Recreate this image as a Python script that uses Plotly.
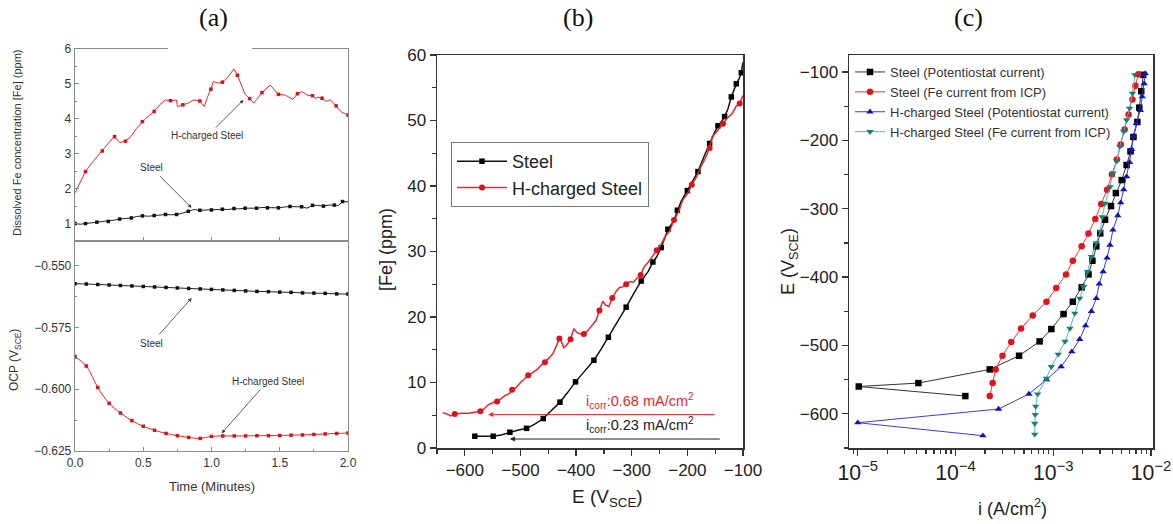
import plotly.graph_objects as go

# ---------------- DATA ----------------
# (a) top: dissolved Fe (ppm) vs time (min)
t_fe_h = [0.0, 0.04, 0.077, 0.12, 0.16, 0.2, 0.244, 0.27, 0.29, 0.31,
          0.327, 0.37, 0.413, 0.45, 0.494, 0.51, 0.54, 0.58, 0.62, 0.663,
          0.7, 0.744, 0.75, 0.79, 0.83, 0.87, 0.915, 0.947, 0.97, 0.996,
          1.013, 1.05, 1.08, 1.12, 1.165, 1.19, 1.22, 1.246, 1.28, 1.31,
          1.33, 1.37, 1.43, 1.46, 1.49, 1.54, 1.597, 1.63, 1.663, 1.7,
          1.74, 1.76, 1.78, 1.81, 1.84, 1.87, 1.913, 1.95, 1.975, 2.0]
fe_h = [1.88, 2.2, 2.49, 2.72, 2.91, 3.08, 3.29, 3.42, 3.49, 3.40,
        3.32, 3.36, 3.51, 3.72, 3.92, 3.98, 4.08, 4.21, 4.40, 4.54,
        4.52, 4.54, 4.35, 4.40, 4.45, 4.54, 4.51, 4.35, 4.62, 4.85,
        5.07, 5.02, 5.05, 5.20, 5.43, 5.25, 4.95, 4.70, 4.58, 4.45,
        4.55, 4.75, 4.97, 4.85, 4.70, 4.68, 4.56, 4.72, 4.78, 4.68,
        4.66, 4.58, 4.62, 4.59, 4.50, 4.55, 4.37, 4.20, 4.15, 4.11]
t_fe_s = [0.0, 0.04, 0.077, 0.12, 0.16, 0.2, 0.244, 0.29, 0.327, 0.37,
          0.413, 0.45, 0.494, 0.54, 0.58, 0.62, 0.663, 0.7, 0.744, 0.79,
          0.83, 0.87, 0.915, 0.96, 1.0, 1.04, 1.08, 1.12, 1.165, 1.2,
          1.246, 1.29, 1.33, 1.37, 1.41, 1.45, 1.49, 1.53, 1.575, 1.62,
          1.66, 1.7, 1.74, 1.78, 1.82, 1.86, 1.9, 1.93, 1.96, 2.0]
fe_s = [1.0, 0.98, 1.0, 1.02, 1.04, 1.05, 1.06, 1.10, 1.13, 1.14,
        1.16, 1.20, 1.22, 1.21, 1.23, 1.24, 1.26, 1.25, 1.26, 1.30,
        1.35, 1.40, 1.38, 1.38, 1.39, 1.40, 1.41, 1.40, 1.43, 1.42,
        1.44, 1.43, 1.44, 1.46, 1.45, 1.44, 1.45, 1.47, 1.49, 1.48,
        1.48, 1.44, 1.52, 1.52, 1.50, 1.53, 1.53, 1.52, 1.63, 1.62]

# (a) bottom: OCP (V_SCE) vs time (min)
t_ocp = [0.0, 0.083, 0.167, 0.25, 0.333, 0.417, 0.5, 0.583, 0.667, 0.75,
         0.833, 0.917, 1.0, 1.083, 1.167, 1.25, 1.333, 1.417, 1.5, 1.583,
         1.667, 1.75, 1.833, 1.917, 2.0]
ocp_s = [-0.5573, -0.5574, -0.5576, -0.5578, -0.5580, -0.5582, -0.5584, -0.5586, -0.5588, -0.5590,
         -0.5592, -0.5594, -0.5596, -0.5598, -0.5600, -0.5602, -0.5604, -0.5605, -0.5607, -0.5608,
         -0.5610, -0.5611, -0.5612, -0.5614, -0.5615]
ocp_h = [-0.5868, -0.5906, -0.5993, -0.6057, -0.6096, -0.6127, -0.6150, -0.6166, -0.6179, -0.6188,
         -0.6195, -0.6199, -0.6191, -0.6189, -0.6189, -0.6189, -0.6188, -0.6188, -0.6187, -0.6186,
         -0.6185, -0.6183, -0.6181, -0.6179, -0.6177]

# (b) [Fe] (ppm) vs E (mV_SCE)
E_b_s = [-582, -565, -549, -535, -519, -505, -489, -475, -459, -445,
         -429, -415, -401, -385, -368, -355, -342, -326, -310, -297,
         -283, -270, -262, -255, -247, -240, -235, -225, -218, -211,
         -200, -190, -181, -170, -160, -152, -145, -139, -133, -127,
         -121, -116, -112, -107, -103, -100]
fe_b_s = [1.8, 1.8, 1.8, 2.0, 2.4, 2.7, 3.0, 3.6, 4.5, 5.6,
          7.0, 8.5, 10.1, 11.7, 13.4, 15.1, 16.9, 19.2, 21.5, 23.5,
          25.5, 27.0, 28.4, 29.2, 30.6, 32.2, 33.4, 34.6, 36.3, 37.7,
          39.3, 40.8, 42.2, 44.5, 46.5, 48.0, 49.2, 49.8, 50.6, 51.8,
          53.6, 54.9, 55.6, 56.4, 57.3, 58.9]
E_b_h = [-640, -632, -626, -618, -605, -592, -580, -572, -565, -558,
         -550, -542, -535, -528, -520, -515, -508, -500, -492, -486,
         -478, -470, -463, -456, -448, -441, -436, -430, -426, -422,
         -416, -410, -404, -398, -392, -386, -378, -370, -364, -358,
         -352, -347, -341, -335, -328, -322, -316, -310, -303, -297,
         -290, -284, -278, -270, -262, -255, -247, -240, -232, -224,
         -216, -208, -200, -192, -184, -176, -168, -160, -155, -150,
         -144, -136, -128, -120, -112, -106, -100]
fe_b_h = [5.4, 5.2, 4.9, 5.2, 5.3, 5.3, 5.5, 5.6, 6.0, 6.6,
          6.9, 7.1, 7.5, 8.0, 8.3, 8.9, 9.2, 10.0, 10.6, 11.1,
          11.5, 12.0, 12.6, 13.1, 13.8, 14.5, 15.6, 16.7, 16.2, 15.3,
          15.8, 16.6, 18.2, 17.6, 17.4, 17.4, 18.0, 18.8, 19.5, 21.0,
          22.4, 21.8, 21.6, 22.9, 23.9, 24.5, 24.6, 25.0, 25.4, 25.3,
          26.0, 26.4, 27.6, 28.4, 29.4, 30.2, 31.1, 32.3, 33.1, 34.8,
          36.0, 37.9, 38.8, 40.2, 41.3, 42.9, 44.2, 45.8, 47.6, 48.0,
          48.6, 49.5, 50.4, 51.0, 52.2, 52.6, 53.8]
icorr_labels = ["i<sub>corr</sub>:0.68 mA/cm<sup>2</sup>", "i<sub>corr</sub>:0.23 mA/cm<sup>2</sup>"]
icorr_fe = [5.1, 1.37]          # level of the i_corr arrows (ppm)
icorr_E_head = [-558, -519]     # arrow heads (mV)
icorr_E_tail = [-148, -139]     # arrow tails (mV)

# (c) Tafel: log10 i (A/cm2) and E (mV_SCE)
logi_s_pot = [-3.90, -4.99, -4.38, -3.65, -3.35, -3.14, -3.02, -2.895, -2.80, -2.71,
              -2.64, -2.60, -2.56, -2.52, -2.47, -2.41, -2.36, -2.30, -2.25, -2.21,
              -2.18, -2.14, -2.12, -2.10, -2.08]
E_s_pot = [-574, -560, -555, -535, -515, -494, -476, -454, -436, -415,
           -396, -376, -355, -336, -316, -296, -277, -258, -236, -216,
           -195, -173, -152, -128, -104]
logi_s_icp = [-3.65, -3.62, -3.59, -3.52, -3.43, -3.33, -3.21, -3.07, -2.97, -2.87,
              -2.80, -2.71, -2.64, -2.57, -2.51, -2.45, -2.40, -2.35, -2.31, -2.27,
              -2.23, -2.19, -2.16, -2.13]
E_s_icp = [-574, -555, -535, -515, -495, -475, -456, -436, -416, -396,
           -376, -355, -336, -315, -293, -272, -250, -228, -206, -184,
           -162, -140, -120, -103]
logi_h_pot = [-3.72, -5.0, -3.56, -3.25, -3.07, -2.92, -2.81, -2.73, -2.67, -2.61,
              -2.56, -2.53, -2.49, -2.45, -2.42, -2.39, -2.34, -2.31, -2.28, -2.25,
              -2.22, -2.20, -2.18, -2.15, -2.11, -2.09, -2.07, -2.06]
E_h_pot = [-632, -613, -593, -571, -550, -531, -509, -491, -471, -450,
           -431, -410, -392, -372, -353, -331, -310, -291, -272, -253,
           -232, -213, -194, -175, -156, -136, -117, -102]
logi_h_icp = [-3.19, -3.19, -3.185, -3.18, -3.16, -3.07, -3.02, -2.95, -2.88, -2.83,
              -2.78, -2.73, -2.69, -2.65, -2.61, -2.56, -2.52, -2.50, -2.47, -2.42,
              -2.39, -2.35, -2.32, -2.28, -2.25, -2.22, -2.19, -2.165]
E_h_icp = [-630, -614, -601, -589, -571, -548, -531, -513, -494, -475,
           -453, -431, -414, -392, -370, -350, -333, -312, -292, -268,
           -248, -230, -209, -187, -170, -153, -131, -104]
c_names = ["Steel (Potentiostat current)", "Steel (Fe current from ICP)",
           "H-charged Steel (Potentiostat current)", "H-charged Steel (Fe current from ICP)"]

# ---------------- LAYOUT HELPERS ----------------
W, H = 1173, 524
def fx(p): return p / W
def fy(p): return 1 - p / H

FONT = "Liberation Sans, Arial, sans-serif"
RED = "#e8262b"
fig = go.Figure()

# (a) top
fig.add_trace(go.Scatter(x=t_fe_s, y=fe_s, mode="lines+markers", xaxis="x", yaxis="y",
                         line=dict(color="#222", width=1),
                         marker=dict(symbol="square", size=3.5, color="#111", maxdisplayed=25),
                         showlegend=False))
fig.add_trace(go.Scatter(x=t_fe_h, y=fe_h, mode="lines+markers", xaxis="x", yaxis="y",
                         line=dict(color=RED, width=1),
                         marker=dict(symbol="square", size=3.5, color="#d0141c", maxdisplayed=24),
                         showlegend=False))
# (a) bottom
fig.add_trace(go.Scatter(x=t_ocp, y=ocp_s, mode="lines+markers", xaxis="x2", yaxis="y2",
                         line=dict(color="#222", width=1, shape="spline"),
                         marker=dict(symbol="square", size=3.5, color="#111"), showlegend=False))
fig.add_trace(go.Scatter(x=t_ocp, y=ocp_h, mode="lines+markers", xaxis="x2", yaxis="y2",
                         line=dict(color=RED, width=1, shape="spline"),
                         marker=dict(symbol="square", size=3.5, color="#d0141c"), showlegend=False))
# (b)
fig.add_trace(go.Scatter(x=E_b_s, y=fe_b_s, mode="lines+markers", xaxis="x3", yaxis="y3",
                         name="Steel", legend="legend",
                         line=dict(color="#111", width=1.5),
                         marker=dict(symbol="square", size=5.5, color="#000", maxdisplayed=23)))
fig.add_trace(go.Scatter(x=E_b_h, y=fe_b_h, mode="lines+markers", xaxis="x3", yaxis="y3",
                         name="H-charged Steel", legend="legend",
                         line=dict(color=RED, width=1.5),
                         marker=dict(symbol="circle", size=6, color="#e0101a", maxdisplayed=20)))
# (c)
c_series = [(logi_s_pot, E_s_pot, "#333333", "#000000", "square"),
            (logi_s_icp, E_s_icp, "#ff3030", "#e0141c", "circle"),
            (logi_h_pot, E_h_pot, "#3a3ae0", "#1212b8", "triangle-up"),
            (logi_h_icp, E_h_icp, "#4fb8c8", "#1a7f70", "triangle-down")]
for (li, ee, lc, mc, sym), nm in zip(c_series, c_names):
    fig.add_trace(go.Scatter(x=[10 ** v for v in li], y=ee, mode="lines+markers",
                             xaxis="x4", yaxis="y4", name=nm, legend="legend2",
                             line=dict(color=lc, width=1),
                             marker=dict(symbol=sym, size=6.5, color=mc)))

# ---------------- AXES ----------------
a_x = [fx(75), fx(348)]
gray = "#8a8a8a"
tick_a = dict(tickfont=dict(size=12, color="#333", family=FONT), ticks="inside", ticklen=4,
              tickcolor=gray, showline=True, linecolor=gray, linewidth=1.3, mirror=True,
              showgrid=False, zeroline=False)
tick_bc = dict(tickfont=dict(size=17, color="#222", family=FONT), ticks="outside", ticklen=6,
               tickcolor="#333", tickwidth=1.3, showline=True, linecolor="#333", linewidth=1.5,
               mirror=True, showgrid=False, zeroline=False)

fig.update_layout(
    xaxis=dict(domain=a_x, anchor="y", range=[0, 2], matches="x2", showticklabels=False,
               dtick=0.5, **tick_a),
    yaxis=dict(domain=[fy(241), fy(49)], anchor="x", range=[0.5, 6], tick0=0, dtick=1,
               minor=dict(ticks="inside", ticklen=2, dtick=0.5, tickcolor=gray), **tick_a),
    xaxis2=dict(domain=a_x, anchor="y2", range=[0, 2], dtick=0.5, tickformat=".1f",
                minor=dict(ticks="inside", ticklen=2, dtick=0.25, tickcolor=gray), **tick_a),
    yaxis2=dict(domain=[fy(451), fy(241)], anchor="x2", range=[-0.625, -0.54], tick0=-0.625,
                dtick=0.025, tickformat=".3f",
                minor=dict(ticks="inside", ticklen=2, dtick=0.0125, tickcolor=gray), **tick_a),
    xaxis3=dict(domain=[fx(437), fx(743)], anchor="y3", range=[-650, -100], tick0=-600, dtick=100,
                minor=dict(ticks="outside", ticklen=4, dtick=50, tickcolor="#333"), **tick_bc),
    yaxis3=dict(domain=[fy(448), fy(55)], anchor="x3", range=[0, 60], dtick=10,
                minor=dict(ticks="outside", ticklen=4, dtick=5, tickcolor="#333"), **tick_bc),
    xaxis4=dict(domain=[fx(849), fx(1153)], anchor="y4", type="log", range=[-5.09, -1.98],
                dtick=1, exponentformat="power", showexponent="all",
                minor=dict(ticks="outside", ticklen=4, dtick="D1", tickcolor="#333"), **tick_bc),
    yaxis4=dict(domain=[fy(448), fy(55)], anchor="x4", range=[-650, -75], tick0=-100, dtick=100,
                minor=dict(ticks="outside", ticklen=4, dtick=50, tickcolor="#333"), **tick_bc),
)

# ---------------- LEGENDS ----------------
fig.update_layout(
    legend=dict(x=fx(451), y=fy(142), xanchor="left", yanchor="top",
                bordercolor="#777", borderwidth=1, bgcolor="white",
                font=dict(size=18, color="#222", family=FONT), tracegroupgap=0,
                itemwidth=50),
    legend2=dict(x=fx(850), y=fy(57), xanchor="left", yanchor="top",
                 bgcolor="rgba(0,0,0,0)", borderwidth=0,
                 font=dict(size=13, color="#333", family=FONT), tracegroupgap=0,
                 itemwidth=30),
)

# ---------------- ANNOTATIONS ----------------
ann = []
def txt(x, y, s, size, color="#222", angle=0, family=FONT):
    ann.append(dict(x=fx(x), y=fy(y), xref="paper", yref="paper", text=s, showarrow=False,
                    textangle=angle, font=dict(size=size, color=color, family=family),
                    xanchor="center", yanchor="middle"))

SERIF = "Liberation Serif, DejaVu Serif, serif"
txt(213, 17, "(a)", 26, "#111", family=SERIF)
txt(578, 17, "(b)", 26, "#111", family=SERIF)
txt(968, 17, "(c)", 26, "#111", family=SERIF)

txt(17, 143, "Dissolved Fe concentration [Fe] (ppm)", 11, "#333", -90)
txt(15, 360, "OCP (V<sub>SCE</sub>)", 12, "#333", -90)
txt(212, 486, "Time (Minutes)", 13, "#333")
txt(386, 250, "[Fe] (ppm)", 18, "#222", -90)
txt(607, 498, "E (V<sub>SCE</sub>)", 19, "#222")
txt(789, 262, "E (V<sub>SCE</sub>)", 18, "#222", -90)
txt(1012, 507, "i (A/cm<sup>2</sup>)", 18, "#222")

# (a) pointer annotations
def pointer(xref, yref, x, y, s, axp, ayp):
    ann.append(dict(x=x, y=y, xref=xref, yref=yref, text=s, showarrow=True,
                    ax=axp, ay=ayp, arrowhead=2, arrowsize=0.9, arrowwidth=0.8,
                    arrowcolor="#333", standoff=0, startstandoff=2,
                    font=dict(size=10, color="#333", family=FONT)))
pointer("x", "y", 1.234, 4.54, "H-charged Steel", -36, 36)
pointer("x", "y", 0.854, 1.45, "Steel", -40, -40)
pointer("x2", "y2", 0.854, -0.5631, "Steel", -40, 45)
pointer("x2", "y2", 1.075, -0.6178, "H-charged Steel", 46, -52)

# (b) i_corr arrows and labels
for lvl, eh, et, col in zip(icorr_fe, icorr_E_head, icorr_E_tail, [RED, "#222"]):
    ann.append(dict(x=eh, y=lvl, ax=et, ay=lvl, xref="x3", yref="y3", axref="x3", ayref="y3",
                    text="", showarrow=True, arrowhead=2, arrowsize=1, arrowwidth=1,
                    arrowcolor=col))
for lbl, lvl, col in zip(icorr_labels, icorr_fe, [RED, "#222"]):
    ann.append(dict(x=-286, y=lvl, xref="x3", yref="y3", text=lbl, showarrow=False,
                    yanchor="bottom", yshift=2, font=dict(size=14.5, color=col, family=FONT)))

fig.update_layout(annotations=ann)

# white gap in the top border of panel (a)
fig.add_shape(type="line", xref="paper", yref="paper", x0=fx(168), x1=fx(252),
              y0=fy(49), y1=fy(49), line=dict(color="white", width=3))

fig.update_layout(width=W, height=H,
                  margin=dict(l=0, r=0, t=0, b=0, pad=0, autoexpand=False),
                  paper_bgcolor="white", plot_bgcolor="white",
                  font=dict(family=FONT))

fig.write_html("out.html",
               config={"displayModeBar": False, "staticPlot": True},
               post_script="document.body.style.margin='0';document.body.style.padding='0';"
                           "document.body.style.overflow='hidden';")
